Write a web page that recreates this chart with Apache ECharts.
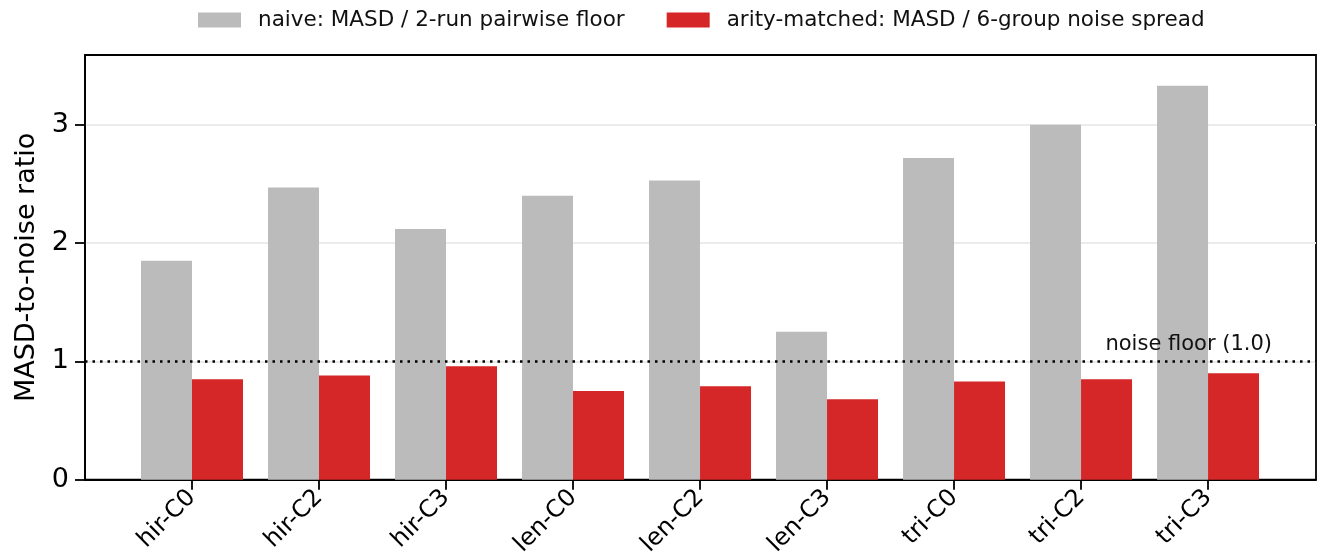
<!DOCTYPE html>
<html><head><meta charset="utf-8">
<script src="https://cdn.jsdelivr.net/npm/echarts@6/dist/echarts.min.js"></script>
<style>html,body{margin:0;padding:0;background:#fff}#c{width:1320px;height:559px}</style>
</head><body><div id="c"></div>
<script>
const categories = ['hir-C0','hir-C2','hir-C3','len-C0','len-C2','len-C3','tri-C0','tri-C2','tri-C3'];
const naiveValues = [1.85, 2.47, 2.12, 2.40, 2.53, 1.25, 2.72, 3.00, 3.33];
const matchedValues = [0.85, 0.88, 0.96, 0.75, 0.79, 0.68, 0.83, 0.85, 0.90];
const yTicks = [0, 1, 2, 3];
const noiseFloor = 1.0;
const positions = categories.map((_, i) => i);

const font = 'DejaVu Sans';
const chart = echarts.init(document.getElementById('c'), null, {renderer: 'canvas'});
chart.setOption({
  animation: false,
  textStyle: {fontFamily: font},
  legend: {
    top: 4, left: 193,
    itemWidth: 43, itemHeight: 15, itemGap: 42,
    textStyle: {fontFamily: font, fontSize: 21.5, color: '#111', padding: [0, 0, 0, 12]},
    icon: 'rect',
    data: ['naive: MASD / 2-run pairwise floor', 'arity-matched: MASD / 6-group noise spread']
  },
  grid: {left: 85, right: 4, top: 55, bottom: 79, show: true, borderColor: '#000', borderWidth: 1.8, backgroundColor: 'transparent'},
  xAxis: {
    type: 'value', min: -0.8425, max: 8.85,
    axisLine: {show: true, onZero: false, lineStyle: {color: '#000', width: 1.8}},
    axisTick: {show: true, inside: false, customValues: positions, length: 10, lineStyle: {color: '#000', width: 1.8}},
    axisLabel: {customValues: positions, rotate: 45, fontSize: 24, color: '#000', margin: 14,
      formatter: v => categories[Math.round(v)]},
    splitLine: {show: false}
  },
  yAxis: {
    type: 'value', min: 0, max: 3.59,
    name: 'MASD-to-noise ratio', nameLocation: 'middle', nameGap: 44,
    nameTextStyle: {fontSize: 27, color: '#000', fontFamily: font},
    axisLine: {show: true, onZero: false, lineStyle: {color: '#000', width: 1.8}},
    axisTick: {show: true, inside: false, customValues: yTicks, length: 10, lineStyle: {color: '#000', width: 1.8}},
    axisLabel: {customValues: yTicks, fontSize: 27, color: '#000', margin: 16},
    splitLine: {show: true, lineStyle: {color: '#ebebeb', width: 1.8}}
  },
  series: [
    {
      name: 'naive: MASD / 2-run pairwise floor', type: 'bar',
      data: positions.map((p, i) => [p, naiveValues[i]]),
      barWidth: 51, barGap: '0%',
      itemStyle: {color: '#bbbbbb'}
    },
    {
      name: 'arity-matched: MASD / 6-group noise spread', type: 'bar',
      data: positions.map((p, i) => [p, matchedValues[i]]),
      barWidth: 51, barGap: '0%',
      itemStyle: {color: '#d62728'},
      markLine: {
        silent: true, symbol: 'none',
        lineStyle: {color: '#000', type: [2.5, 5], width: 2.5},
        label: {show: true, position: 'insideEndTop', formatter: 'noise floor (1.0)', fontSize: 21, color: '#111', fontFamily: font, distance: [44, 6]},
        data: [{yAxis: noiseFloor}]
      },
      z: 3
    }
  ]
});
</script></body></html>
